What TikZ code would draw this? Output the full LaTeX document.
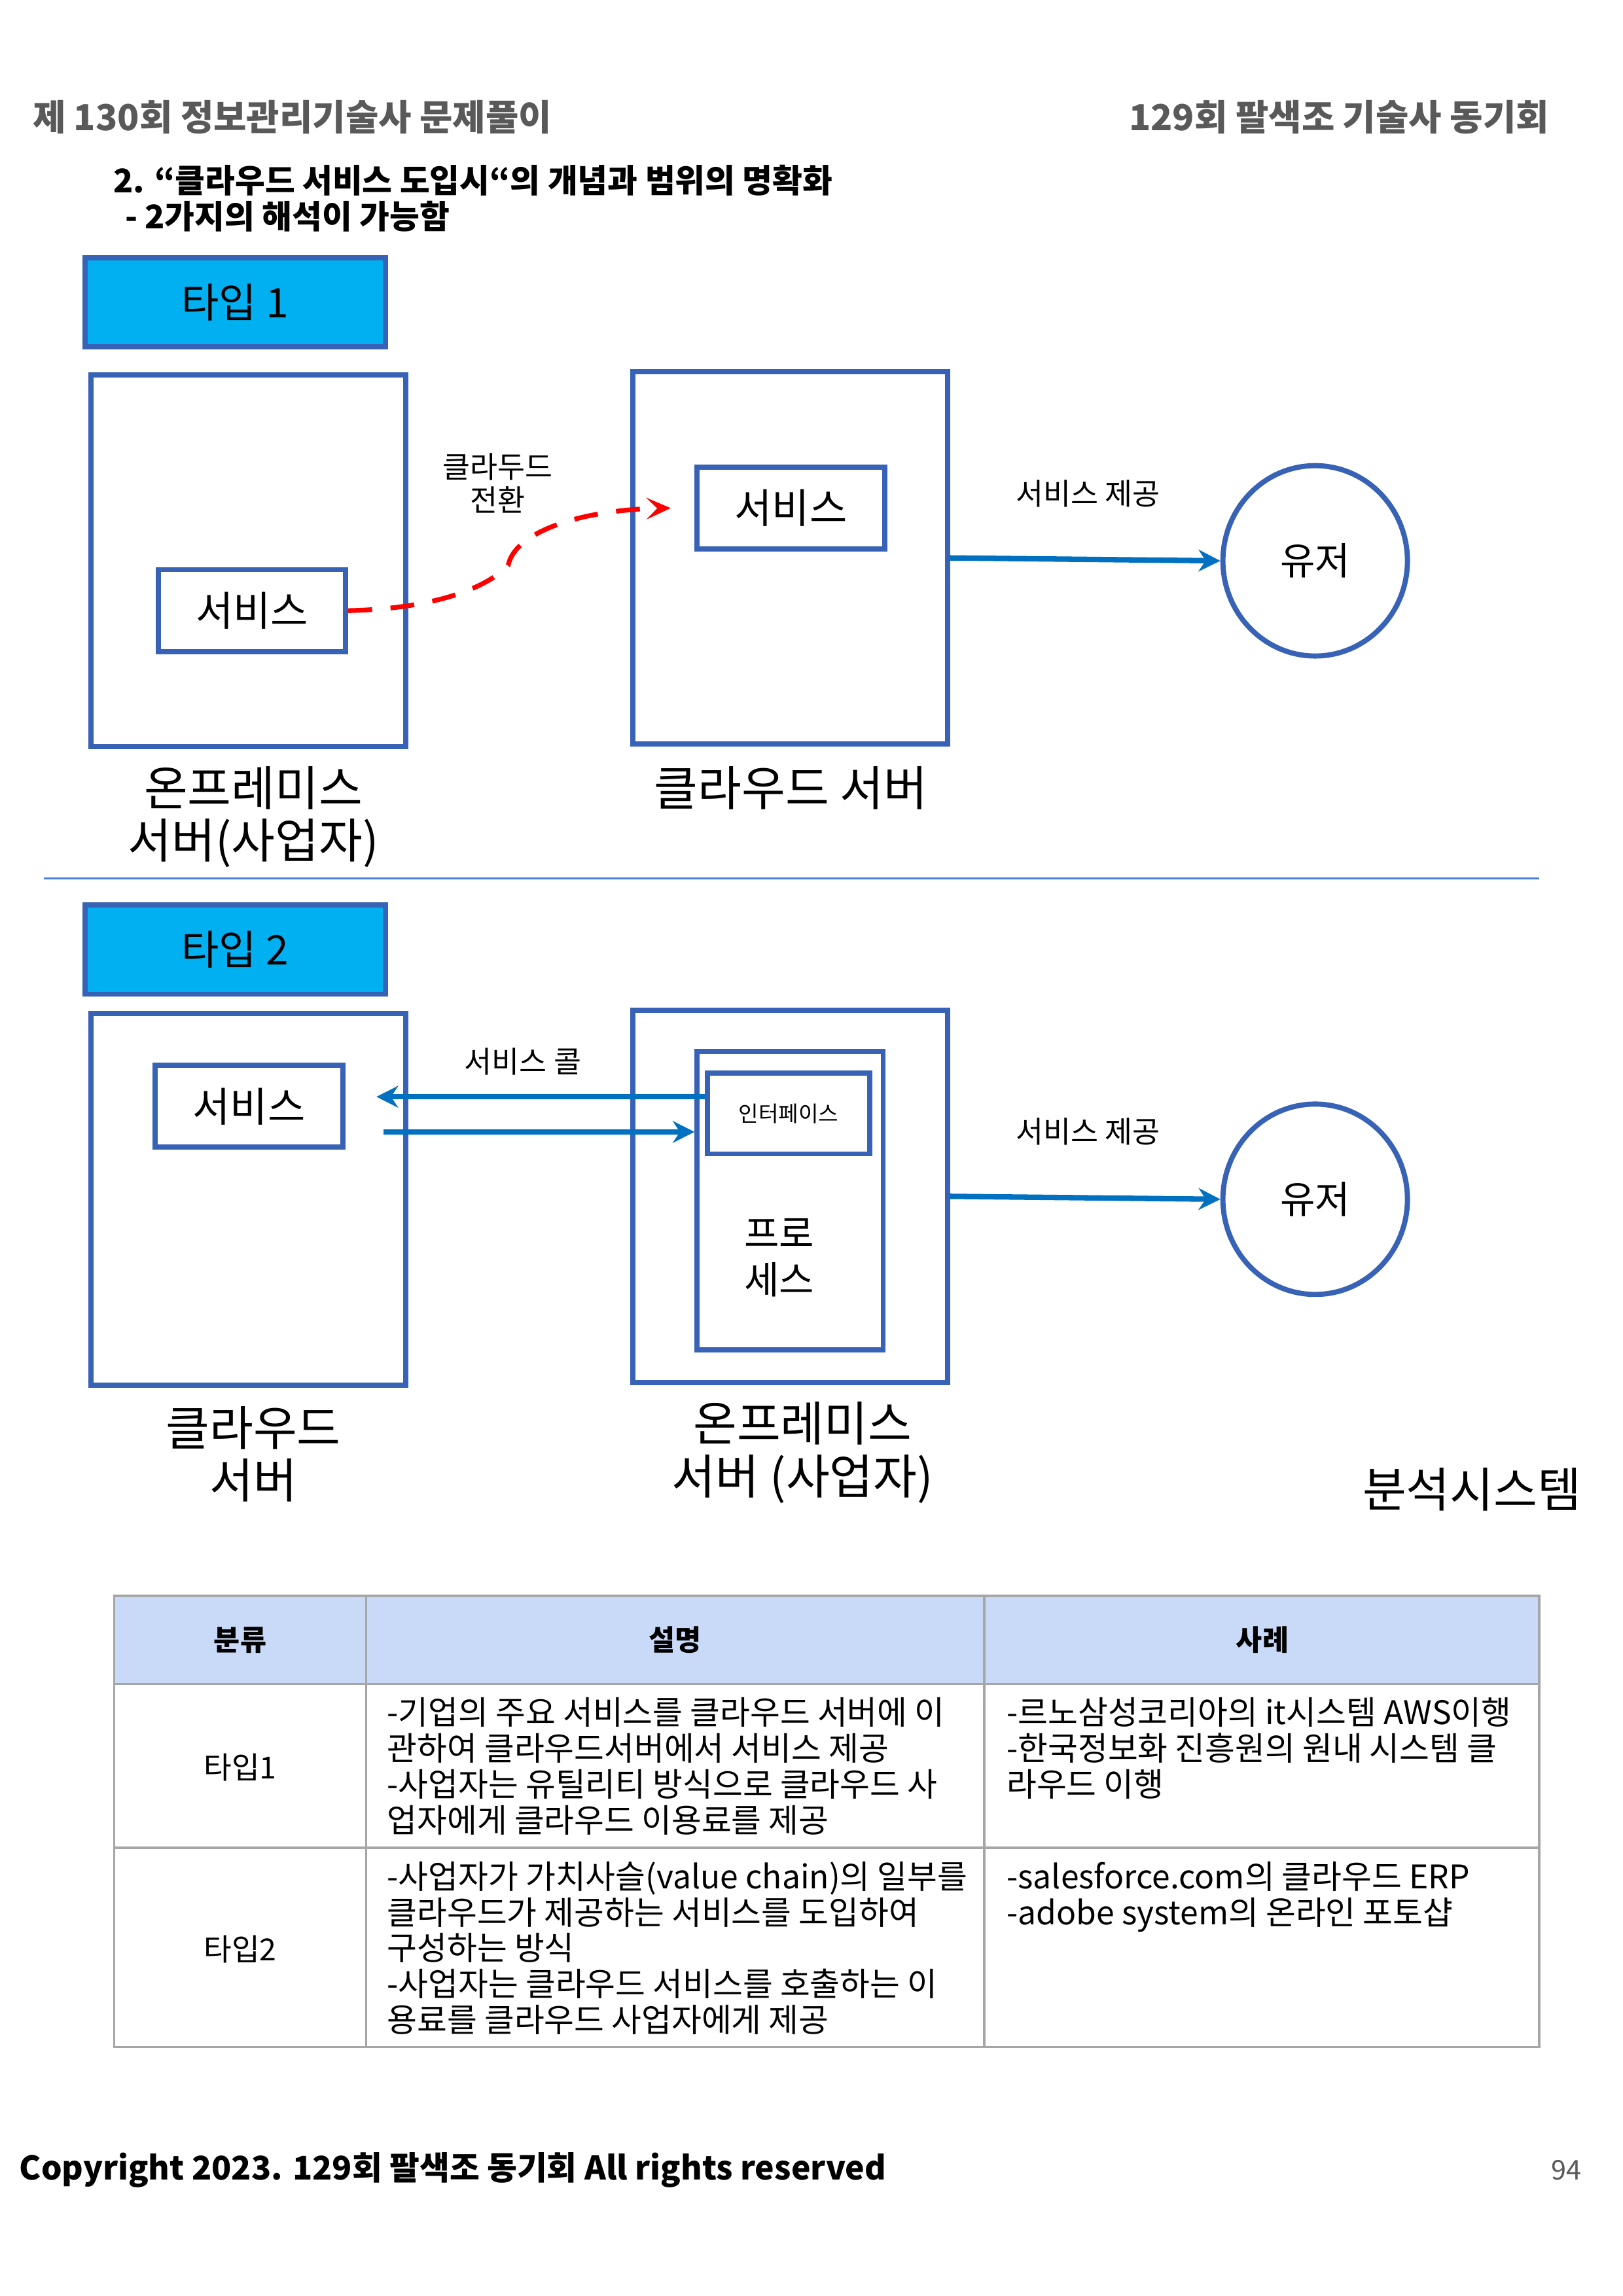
\documentclass[tikz,border=0pt]{standalone}
\usepackage{fontspec}
\setmainfont{Noto Sans CJK KR}
\usepackage{xcolor}
\usepackage{tikz}
\usetikzlibrary{positioning, arrows.meta, shapes.geometric}

\newdimen\px \px=0.18953mm
\definecolor{boxblue}{HTML}{3762B5}
\definecolor{typecyan}{HTML}{00B0F0}
\definecolor{arrowblue}{HTML}{0070C0}
\definecolor{headgray}{HTML}{595959}
\definecolor{cellfill}{HTML}{C9DAF8}
\definecolor{rulegray}{HTML}{A6A6A6}
\definecolor{sepblue}{HTML}{4A7FDC}

\begin{document}
\begin{tikzpicture}[x=0.18953mm, y=-0.18953mm, >={Stealth[length=8pt, width=8pt]},
        server/.style={draw=boxblue, line width=1.9pt, minimum width=215\px, minimum height=254\px, inner sep=0pt},
        svcbox/.style={draw=boxblue, line width=1.9pt, minimum width=128\px, minimum height=56\px, inner sep=0pt, font=\fontsize{15pt}{18pt}\selectfont},
        typebox/.style={draw=boxblue, fill=typecyan, line width=1.9pt, minimum width=205\px, minimum height=61\px, inner sep=0pt, font=\fontsize{15pt}{18pt}\selectfont},
        user/.style={ellipse, draw=boxblue, line width=1.9pt, minimum width=126\px, minimum height=130\px, inner sep=0pt, font=\fontsize{14pt}{17pt}\selectfont},
        biglabel/.style={align=center, inner sep=0pt, font=\fontsize{17.5pt}{19.4pt}\selectfont},
        small/.style={align=center, inner sep=0pt, font=\fontsize{11pt}{12.4pt}\selectfont},
        flow/.style={->, draw=arrowblue, line width=2pt},
        cell/.style={align=left, anchor=north west, inner sep=0pt, font=\fontsize{12pt}{13.2pt}\selectfont},
        cellhead/.style={inner sep=0pt, font=\fontsize{10.5pt}{12.6pt}\selectfont\bfseries}]
        \useasboundingbox (0,0) rectangle (1108,1568);

        \node[anchor=west, inner sep=0pt, text=headgray, font=\fontsize{13.2pt}{15pt}\selectfont\bfseries] (head) at (22,80) {제 130회 정보관리기술사 문제풀이};
        \node[anchor=east, inner sep=0pt, text=headgray, font=\fontsize{13.2pt}{15pt}\selectfont\bfseries] (club) at (1058,80) {129회 팔색조 기술사 동기회};
        \node[anchor=west, inner sep=0pt, font=\fontsize{12pt}{14pt}\selectfont\bfseries] (title) at (77,123) {2. “클라우드 서비스 도입시“의 개념과 범위의 명확화};
        \node[anchor=west, inner sep=0pt, font=\fontsize{12pt}{14pt}\selectfont\bfseries] (subtitle) at (85,148) {- 2가지의 해석이 가능함};

        \node[typebox] (type1) at (160.5,206.5) {타입 1};
        \node[server] (onprem1) at (169.5,383) {};
        \node[svcbox] (svc1) at (172,417) {서비스};
        \node[server] (cloud1) at (539.5,381) {};
        \node[svcbox] (svc2) at (540,347) {서비스};
        \node[user] (user1) at (898,383) {유저};
        \coordinate (mig) at (458,347);

        \node[biglabel] (onprem1lbl) at (173,558) {온프레미스\\서버(사업자)};
        \node[biglabel] (cloud1lbl) at (540,538) {클라우드 서버};
        \node[small] (miglbl) at (340,330) {클라두드\\전환};
        \node[small] (give1) at (743,337) {서비스 제공};

        \draw[red, line width=1.75pt, dash pattern=on 8.8pt off 6.8pt, -{Stealth[length=9pt, width=8pt, inset=4pt]}]
        (svc1.east) .. controls (290,416) and (330,404) .. (347,386)
        .. controls (352,362) and (400,348) .. (mig);
        \draw[flow] (cloud1.east) -- (user1.west);

        \draw[sepblue, line width=0.65pt] (30,600) -- (1051,600);

        \node[typebox] (type2) at (160.5,648.5) {타입 2};
        \node[server] (cloud2) at (169.5,819) {};
        \node[svcbox] (svc3) at (170,755.5) {서비스};
        \node[server] (onprem2) at (539.5,817) {};
        \node[draw=boxblue, line width=1.9pt, minimum width=127\px, minimum height=204\px, inner sep=0pt] (proc) at (539.5,820) {};
        \node[draw=boxblue, line width=1.9pt, minimum width=111\px, minimum height=55\px, inner sep=0pt, font=\fontsize{8pt}{10pt}\selectfont] (iface) at (538.5,760.5) {인터페이스};
        \node[align=center, inner sep=0pt, font=\fontsize{14pt}{17pt}\selectfont] (proclbl) at (532,859) {프로\\세스};
        \node[user] (user2) at (898,819) {유저};
        \coordinate (callback) at (257,749);
        \coordinate (callout) at (262,773);

        \node[small] (calllbl) at (357,725) {서비스 콜};
        \node[small] (give2) at (743,773) {서비스 제공};
        \node[biglabel] (cloud2lbl) at (173,993) {클라우드\\서버};
        \node[biglabel] (onprem2lbl) at (548,992) {온프레미스\\서버 (사업자)};
        \node[biglabel] (analysis) at (1005,1017) {분석시스템};

        \draw[flow] (callback -| iface.west) -- (callback);
        \draw[flow] (callout) -- (callout -| proc.west);
        \draw[flow] (onprem2.east) -- (user2.west);

        \fill[cellfill] (78,1090) rectangle (1051,1150);
        \draw[rulegray, line width=0.9pt] (78,1090) rectangle (1051,1398);
        \foreach \y in {1150,1262}
            \draw[rulegray, line width=0.9pt] (78,\y) -- (1051,\y);
        \foreach \x in {250,672}
            \draw[rulegray, line width=0.9pt] (\x,1090) -- (\x,1398);

        \node[cellhead] (kind) at (164,1120) {분류};
        \node[cellhead] (desc) at (461,1120) {설명};
        \node[cellhead] (case) at (862,1120) {사례};
        \node[inner sep=0pt, font=\fontsize{11.2pt}{13pt}\selectfont] (row1) at (164,1207) {타입1};
        \node[inner sep=0pt, font=\fontsize{11.2pt}{13pt}\selectfont] (row2) at (164,1331) {타입2};
        \node[cell] (desc1) at (264,1159) {-기업의 주요 서비스를 클라우드 서버에 이\\관하여 클라우드서버에서 서비스 제공\\-사업자는 유틸리티 방식으로 클라우드 사\\업자에게 클라우드 이용료를 제공};
        \node[cell] (case1) at (687,1159) {-르노삼성코리아의 it시스템 AWS이행\\-한국정보화 진흥원의 원내 시스템 클\\라우드 이행};
        \node[cell] (desc2) at (264,1271) {-사업자가 가치사슬(value chain)의 일부를\\클라우드가 제공하는 서비스를 도입하여\\구성하는 방식\\-사업자는 클라우드 서비스를 호출하는 이\\용료를 클라우드 사업자에게 제공};
        \node[cell] (case2) at (687,1271) {-salesforce.com의 클라우드 ERP\\-adobe system의 온라인 포토샵};

        \node[anchor=west, inner sep=0pt, font=\fontsize{12pt}{14pt}\selectfont\bfseries] (copy) at (13,1482) {Copyright 2023. 129회 팔색조 동기회 All rights reserved};
        \node[anchor=east, inner sep=0pt, text=headgray, font=\fontsize{10pt}{12pt}\selectfont] (page) at (1080,1482) {94};
    \end{tikzpicture}
\end{document}
